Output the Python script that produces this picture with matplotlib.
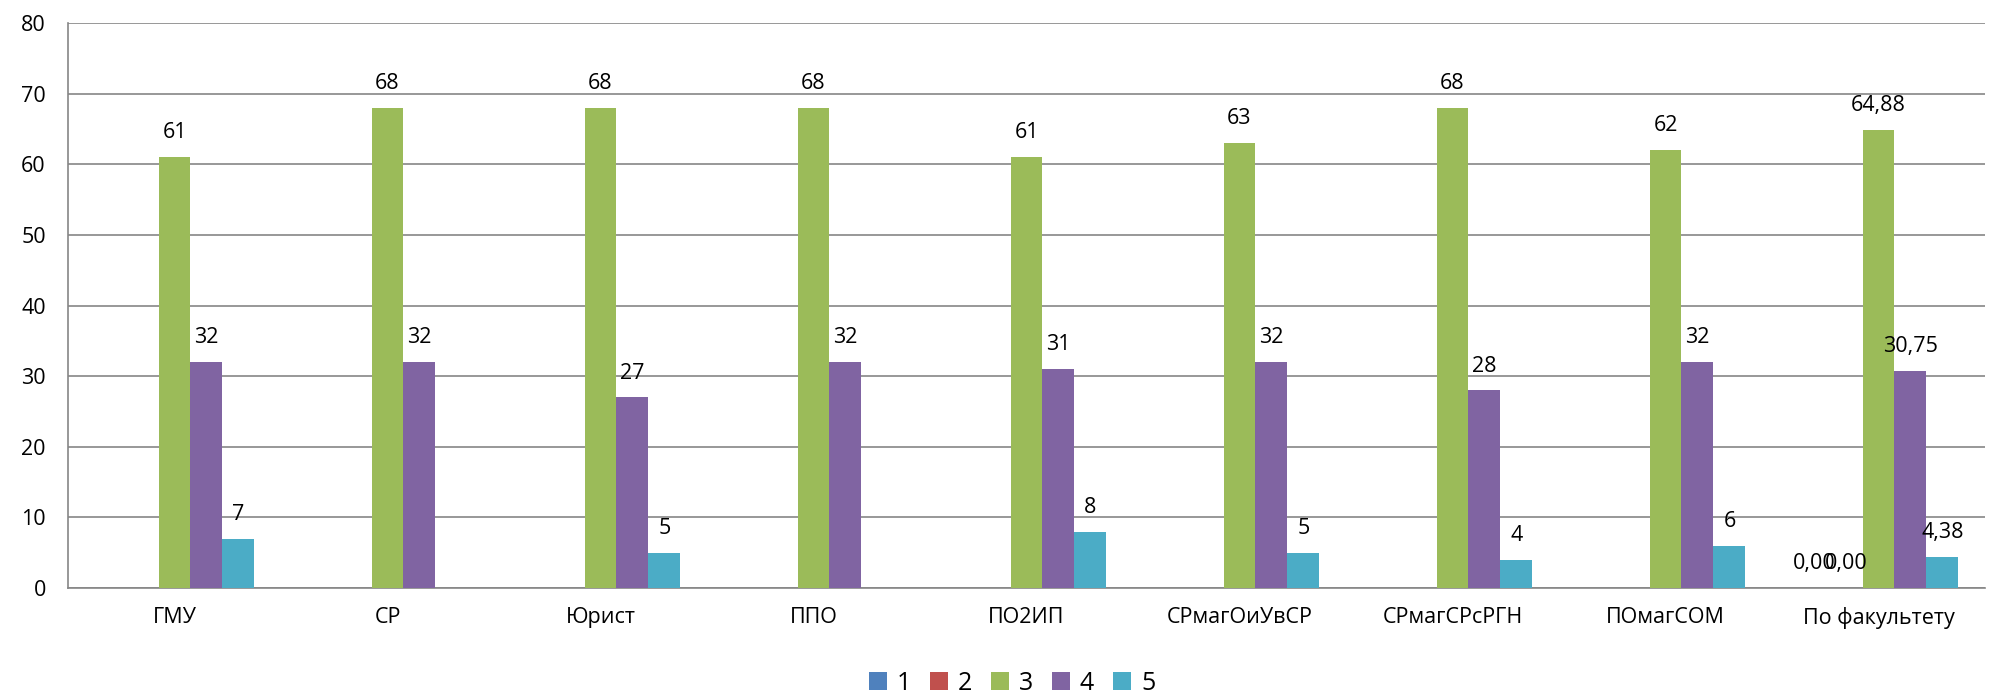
import numpy as np
import matplotlib.pyplot as plt

plt.rcParams['font.family'] = ['Open Sans', 'DejaVu Sans']

categories = ['ГМУ', 'СР', 'Юрист', 'ППО', 'ПО2ИП', 'СРмагОиУвСР',
              'СРмагСРсРГН', 'ПОмагСОМ', 'По факультету']
series_names = ['1', '2', '3', '4', '5']
s1 = [None, None, None, None, None, None, None, None, 0.0]
s2 = [None, None, None, None, None, None, None, None, 0.0]
s3 = [61, 68, 68, 68, 61, 63, 68, 62, 64.88]
s4 = [32, 32, 27, 32, 31, 32, 28, 32, 30.75]
s5 = [7, None, 5, None, 8, 5, 4, 6, 4.38]
yticks = [0, 10, 20, 30, 40, 50, 60, 70, 80]

colors = ['#4F81BD', '#C0504D', '#9BBB59', '#8064A2', '#4BACC6']
fs = 15.5

fig = plt.figure(figsize=(19.9, 6.97), dpi=100)
ax = fig.add_axes([68/1990, 1-588/697, (1985-68)/1990, (588-23)/697])

x = np.arange(len(categories))
w = 0.15
for i, (vals, name) in enumerate(zip([s1, s2, s3, s4, s5], series_names)):
    v = np.array([np.nan if a is None else a for a in vals], dtype=float)
    xs = x + (i - 2) * w
    ax.bar(xs, np.nan_to_num(v), w, color=colors[i], label=name, zorder=3)
    for j in range(len(v)):
        if np.isnan(v[j]):
            continue
        # last group is an average -> two decimals
        if j == len(categories) - 1:
            txt = f'{v[j]:.2f}'.replace('.', ',')
        else:
            txt = str(int(v[j]))
        ax.annotate(txt, (xs[j], v[j]), xytext=(0, 13.5), textcoords='offset points',
                    ha='center', va='baseline', fontsize=fs, zorder=4)

ax.set_xlim(-0.5, len(categories) - 0.5)
ax.set_ylim(0, 80)
ax.set_yticks(yticks)
ax.set_xticks(x)
ax.set_xticklabels(categories)
ax.yaxis.grid(True, color='#868686', linewidth=1.2)
ax.set_axisbelow(True)
for s in ['top', 'right']:
    ax.spines[s].set_visible(False)
for s in ['left', 'bottom']:
    ax.spines[s].set_color('#868686')
    ax.spines[s].set_linewidth(1.2)
ax.tick_params(axis='both', length=0, labelsize=fs)
ax.tick_params(axis='y', pad=16)
ax.tick_params(axis='x', pad=14)

fig.legend(loc='center', bbox_to_anchor=(1012/1990, 1-683/697), ncol=5, frameon=False,
           fontsize=18, handlelength=0.72, handleheight=0.72, handletextpad=0.4,
           columnspacing=0.75)

fig.savefig('out.png', dpi=100)
